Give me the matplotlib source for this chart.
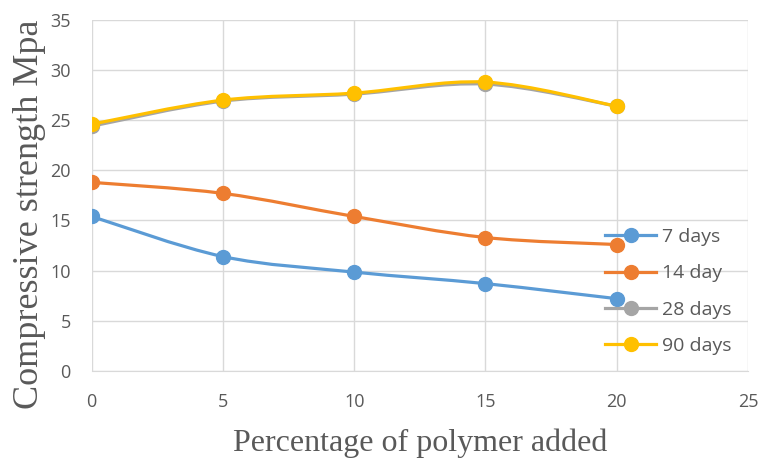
import matplotlib

matplotlib.use("Agg")

import matplotlib.pyplot as plt
import numpy as np
from matplotlib.lines import Line2D
from matplotlib.patches import PathPatch
from matplotlib.path import Path

polymer_pct = [0, 5, 10, 15, 20]
days_7 = [15.4, 11.4, 9.85, 8.7, 7.2]
days_14 = [18.8, 17.7, 15.4, 13.3, 12.6]
days_28 = [24.4, 26.9, 27.6, 28.6, 26.4]
days_90 = [24.6, 27.0, 27.7, 28.8, 26.4]

series = [
    ("7 days", days_7, "#5B9BD5"),
    ("14 day", days_14, "#ED7D31"),
    ("28 days", days_28, "#A5A5A5"),
    ("90 days", days_90, "#FFC000"),
]


def smooth_path(x, y):
    # Catmull-Rom style cubic Bezier through the data points
    pts = np.column_stack([x, y]).astype(float)
    verts = [pts[0]]
    codes = [Path.MOVETO]
    n = len(pts)
    for i in range(n - 1):
        p0 = pts[max(i - 1, 0)]
        p1 = pts[i]
        p2 = pts[i + 1]
        p3 = pts[min(i + 2, n - 1)]
        c1 = p1 + (p2 - p0) / 6.0
        c2 = p2 - (p3 - p1) / 6.0
        verts += [c1, c2, p2]
        codes += [Path.CURVE4] * 3
    return Path(verts, codes)


fig = plt.figure(figsize=(7.64, 4.63), dpi=100)
ax = fig.add_axes([0.120, 0.199, 0.859, 0.758])

handles = []
for label, values, color in series:
    ax.add_patch(PathPatch(smooth_path(polymer_pct, values), facecolor="none",
                           edgecolor=color, lw=2.3, capstyle="round", zorder=3))
    ax.plot(polymer_pct, values, "o", color=color, markersize=10, zorder=4)
    handles.append(Line2D([], [], color=color, lw=2.3, marker="o", markersize=10))

ax.set_xlim(0, 25)
ax.set_ylim(0, 35)
ax.set_xticks(range(0, 26, 5))
ax.set_yticks(range(0, 36, 5))
ax.grid(True, color="#D9D9D9", lw=1.0)
ax.set_axisbelow(True)
for side in ["top", "right", "left"]:
    ax.spines[side].set_visible(False)
ax.spines["bottom"].set_color("#D9D9D9")
ax.tick_params(length=0, labelsize=13, labelcolor="#595959")
ax.tick_params(axis="x", pad=16)
ax.tick_params(axis="y", pad=15)
for lab in ax.get_xticklabels() + ax.get_yticklabels():
    lab.set_family("Open Sans")

ax.set_xlabel("Percentage of polymer added", family="Liberation Serif", fontsize=23,
              color="#595959", va="center")
ax.set_ylabel("Compressive strength Mpa", family="Liberation Serif", fontsize=26,
              color="#595959", va="center")
ax.xaxis.set_label_coords(0.5, -0.205)
ax.yaxis.set_label_coords(-0.095, 0.447)

leg = ax.legend(handles, [s[0] for s in series], loc="center left",
                bbox_to_anchor=(0.756, 0.226), frameon=False, handlelength=2.6,
                handletextpad=0.3, labelspacing=0.95,
                prop={"family": "Open Sans", "size": 14})
for text in leg.get_texts():
    text.set_color("#595959")

fig.savefig("out.png", dpi=100)
